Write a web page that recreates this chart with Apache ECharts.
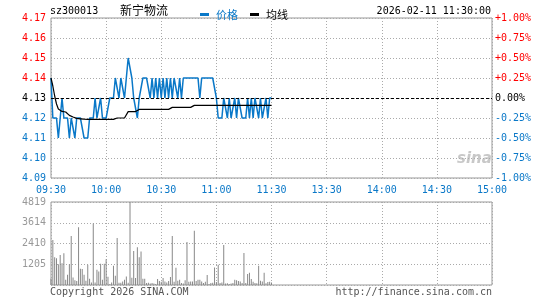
<!DOCTYPE html>
<html>
<head>
<meta charset="utf-8">
<title>sz300013 新宁物流</title>
<script src="https://cdn.jsdelivr.net/npm/echarts@6/dist/echarts.min.js"></script>
<style>
    html, body { margin: 0; padding: 0; background: #fff; }
    #chart { width: 545px; height: 300px; }
</style>
</head>
<body>
<div id="chart"></div>
<script>
// Initialize chart
let chart;

// Time axis tick labels (one every 30 minutes, 240 minutes total)
const timeLabels = ['09:30', '10:00', '10:30', '11:00', '11:30', '13:30', '14:00', '14:30', '15:00'];

// Minute prices, 09:30 - 11:30
const prices = [
    4.14, 4.12, 4.12, 4.12, 4.11, 4.12, 4.13, 4.12, 4.12, 4.12,
    4.11, 4.12, 4.12, 4.11, 4.12, 4.12, 4.12, 4.12, 4.11, 4.11,
    4.11, 4.12, 4.12, 4.12, 4.13, 4.12, 4.12, 4.13, 4.12, 4.12,
    4.12, 4.12, 4.13, 4.13, 4.13, 4.14, 4.14, 4.13, 4.14, 4.14,
    4.13, 4.14, 4.15, 4.15, 4.14, 4.13, 4.13, 4.12, 4.13, 4.13,
    4.14, 4.14, 4.14, 4.14, 4.13, 4.14, 4.13, 4.14, 4.13, 4.14,
    4.13, 4.14, 4.13, 4.14, 4.13, 4.14, 4.13, 4.14, 4.14, 4.13,
    4.14, 4.13, 4.14, 4.14, 4.14, 4.14, 4.14, 4.14, 4.14, 4.14,
    4.14, 4.13, 4.14, 4.14, 4.14, 4.14, 4.14, 4.14, 4.14, 4.14,
    4.13, 4.12, 4.12, 4.12, 4.13, 4.13, 4.12, 4.13, 4.12, 4.12,
    4.13, 4.12, 4.13, 4.13, 4.12, 4.12, 4.12, 4.13, 4.12, 4.13,
    4.12, 4.13, 4.13, 4.12, 4.13, 4.12, 4.12, 4.13, 4.12, 4.13,
    4.13
];

// Average price line
const avgPrices = [
    4.140, 4.136, 4.131, 4.127, 4.1245, 4.124, 4.1233, 4.123, 4.123, 4.122,
    4.1213, 4.121, 4.1205, 4.120, 4.1198, 4.1197, 4.1196, 4.1195, 4.1194, 4.1193,
    4.1193, 4.1193, 4.1193, 4.1193, 4.1193, 4.1193, 4.1193, 4.1193, 4.1193, 4.1193,
    4.1193, 4.1193, 4.1193, 4.1193, 4.1193, 4.1200, 4.1200, 4.1200, 4.1200, 4.1200,
    4.1200, 4.1200, 4.1232, 4.1232, 4.1232, 4.1232, 4.1232, 4.1237, 4.1243, 4.1243,
    4.1243, 4.1243, 4.1243, 4.1243, 4.1243, 4.1243, 4.1243, 4.1243, 4.1243, 4.1243,
    4.1243, 4.1243, 4.1243, 4.1243, 4.1243, 4.1243, 4.1253, 4.1253, 4.1253, 4.1253,
    4.1253, 4.1253, 4.1253, 4.1253, 4.1253, 4.1253, 4.1253, 4.1253, 4.1263, 4.1263,
    4.1263, 4.1263, 4.1263, 4.1263, 4.1263, 4.1263, 4.1263, 4.1263, 4.1263, 4.1263,
    4.1263, 4.1263, 4.1263, 4.1263, 4.1263, 4.1263, 4.1263, 4.1263, 4.1263, 4.1263,
    4.1263, 4.1263, 4.1263, 4.1263, 4.1263, 4.1263, 4.1263, 4.1263, 4.1263, 4.1263,
    4.1263, 4.1263, 4.1263, 4.1263, 4.1263, 4.1263, 4.1263, 4.1263, 4.1263, 4.1263,
    4.1263
];

// Minute volumes
const volumes = [
    365, 2611, 1613, 1555, 1210, 1747, 1267, 1843, 307, 595,
    1210, 2842, 442, 270, 230, 3360, 941, 922, 595, 250,
    1171, 365, 150, 3571, 150, 883, 787, 1229, 307, 1229,
    1498, 480, 60, 150, 1114, 538, 2726, 130, 130, 210,
    307, 499, 130, 4819, 422, 1978, 400, 2189, 1613, 1939,
    365, 365, 110, 130, 90, 110, 90, 60, 346, 230,
    190, 403, 210, 150, 230, 461, 2842, 190, 998, 250,
    307, 110, 80, 270, 2496, 190, 210, 210, 3149, 230,
    307, 307, 210, 110, 190, 576, 60, 110, 130, 1018,
    170, 1171, 110, 140, 2323, 80, 100, 60, 80, 110,
    307, 270, 230, 210, 120, 1862, 110, 634, 710, 346,
    190, 110, 100, 1114, 250, 210, 710, 100, 170, 190,
    150
];

const prevClose = 4.13;
const volMax = 4819;

const RED = '#ff0000';
const BLUE = '#0a78c8';
const MONO = '"DejaVu Sans Mono", monospace';

function priceColor(v) {
    const n = parseFloat(v);
    if (Math.abs(n - prevClose) < 1e-6) return '#000';
    return n > prevClose ? RED : BLUE;
}

function pctColor(v) {
    const n = parseFloat(v);
    if (Math.abs(n) < 1e-6) return '#000';
    return n > 0 ? RED : BLUE;
}

function setupChart() {
    chart = echarts.init(document.getElementById('chart'));

    const dotted = { show: true, lineStyle: { color: '#aaa', type: [1, 2], width: 1 } };

    const option = {
        animation: false,
        backgroundColor: '#fff',
        legend: {
            left: 195,
            top: 4,
            itemWidth: 9,
            itemHeight: 3,
            itemGap: 12,
            icon: 'rect',
            textStyle: { fontSize: 11, fontFamily: '"Noto Sans CJK SC", sans-serif', padding: [0, 0, 0, 2] },
            data: [
                { name: '价格', textStyle: { color: BLUE } },
                { name: '均线', textStyle: { color: '#000' } }
            ]
        },
        graphic: [
            { type: 'text', left: 50, top: 6, style: { text: 'sz300013', font: '10px ' + MONO, fill: '#000' } },
            { type: 'text', left: 120, top: 4, style: { text: '新宁物流', font: '12px "Noto Sans CJK SC"', fill: '#000' } },
            { type: 'text', right: 54, top: 6, style: { text: '2026-02-11 11:30:00', font: '10px ' + MONO, fill: '#000' } },
            { type: 'text', left: 50, top: 287, style: { text: 'Copyright 2026 SINA.COM', font: '10px ' + MONO, fill: '#555' } },
            { type: 'text', right: 53, top: 287, style: { text: 'http://finance.sina.com.cn', font: '10px ' + MONO, fill: '#555' } },
            { type: 'text', left: 457, top: 152, style: { text: 'sina', font: 'italic bold 15px "DejaVu Sans"', fill: '#c8c8c8' } }
        ],
        grid: [
            { left: 51, right: 53, top: 18, height: 160, show: true, borderColor: '#999', borderWidth: 1 },
            { left: 51, right: 53, top: 202, height: 83, show: true, borderColor: '#999', borderWidth: 1 }
        ],
        xAxis: [
            {
                type: 'value', gridIndex: 0, min: 0, max: 240, interval: 30,
                axisLine: { show: false }, axisTick: { show: false },
                splitLine: dotted,
                axisLabel: {
                    margin: 7, color: BLUE, fontSize: 10, fontFamily: MONO,
                    formatter: v => timeLabels[Math.round(v / 30)]
                }
            },
            {
                type: 'value', gridIndex: 1, min: 0, max: 240, interval: 30,
                axisLine: { show: false }, axisTick: { show: false },
                splitLine: dotted,
                axisLabel: { show: false }
            }
        ],
        yAxis: [
            {
                type: 'value', gridIndex: 0, min: 4.09, max: 4.17, interval: 0.01,
                axisLine: { show: false }, axisTick: { show: false },
                splitLine: dotted,
                axisLabel: {
                    margin: 5, fontSize: 10, fontFamily: MONO,
                    color: priceColor,
                    formatter: v => v.toFixed(2)
                }
            },
            {
                type: 'value', gridIndex: 0, position: 'right', min: -1, max: 1, interval: 0.25,
                axisLine: { show: false }, axisTick: { show: false },
                splitLine: { show: false },
                axisLabel: {
                    margin: 3, fontSize: 10, fontFamily: MONO,
                    color: pctColor,
                    formatter: v => (v > 1e-6 ? '+' : '') + (Math.abs(v) < 1e-6 ? 0 : v).toFixed(2) + '%'
                }
            },
            {
                type: 'value', gridIndex: 1, min: 0, max: volMax, interval: volMax / 4,
                axisLine: { show: false }, axisTick: { show: false },
                splitLine: dotted,
                axisLabel: {
                    margin: 5, fontSize: 10, fontFamily: MONO, color: '#999',
                    formatter: v => (v === 0 ? '' : String(Math.round(v)))
                }
            }
        ],
        series: [
            {
                name: '价格',
                type: 'line',
                xAxisIndex: 0, yAxisIndex: 0,
                data: prices.map((v, i) => [i, v]),
                symbol: 'none',
                itemStyle: { color: BLUE },
                lineStyle: { color: BLUE, width: 1.5 },
                markLine: {
                    silent: true,
                    symbol: 'none',
                    label: { show: false },
                    lineStyle: { color: '#000', type: [3, 2], width: 1 },
                    data: [{ yAxis: prevClose }]
                },
                z: 3
            },
            {
                name: '均线',
                type: 'line',
                xAxisIndex: 0, yAxisIndex: 0,
                data: avgPrices.map((v, i) => [i, v]),
                symbol: 'none',
                itemStyle: { color: '#000' },
                lineStyle: { color: '#000', width: 1.2 },
                z: 4
            },
            {
                name: '成交量',
                type: 'bar',
                xAxisIndex: 1, yAxisIndex: 2,
                data: volumes.map((v, i) => [i, v]),
                barWidth: 1,
                itemStyle: { color: '#888' }
            }
        ]
    };

    chart.setOption(option);
}

document.addEventListener('DOMContentLoaded', setupChart);
</script>
</body>
</html>
